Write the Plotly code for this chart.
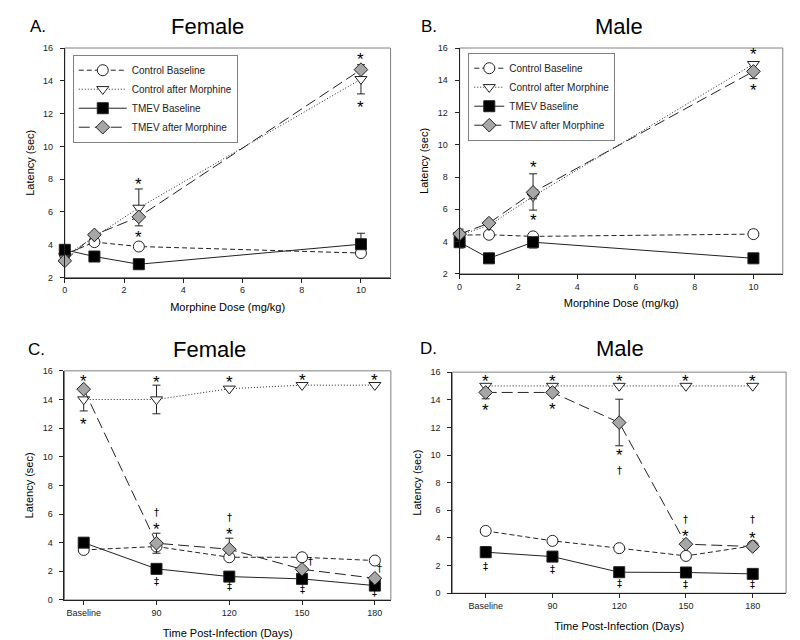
import plotly.graph_objects as go

FONT = "Liberation Sans, Arial, sans-serif"
DFONT = "DejaVu Sans, sans-serif"

# ---------------- data ----------------
dose = [0, 1, 2.5, 10]
days_pos = [0, 1, 2, 3, 4]
days_labels = ["Baseline", "90", "120", "150", "180"]
series_names = ["Control Baseline", "Control after Morphine", "TMEV Baseline", "TMEV after Morphine"]

# Panel A (Female, dose)
A_cb = [3.4, 4.16, 3.89, 3.49]
A_cm = [3.3, 4.5, 6.25, 14.1]
A_cm_up = [None, None, 1.15, None]
A_cm_dn = [None, None, None, 0.9]
A_tb = [3.69, 3.28, 2.81, 4.03]
A_tb_up = [None, None, None, 0.67]
A_tm = [3.02, 4.6, 5.7, 14.68]
A_tm_up = [None, None, None, 0.3]
A_tm_dn = [None, None, 0.55, None]

# Panel B (Male, dose)
B_cb = [4.4, 4.42, 4.32, 4.46]
B_cb_up = [None, None, None, 0.25]
B_cm = [4.4, 5.0, 6.8, 15.0]
B_cm_dn = [None, None, 0.85, None]
B_tb = [3.96, 2.96, 3.96, 2.96]
B_tb_dn = [0.36, None, 0.36, None]
B_tm = [4.46, 5.14, 7.05, 14.55]
B_tm_up = [0.31, None, 1.15, None]
B_tm_dn = [None, None, 0.4, 0.45]

# Panel C (Female, time)
C_cb = [3.49, 3.73, 2.98, 2.98, 2.75]
C_cm = [14.0, 14.0, 14.75, 15.0, 15.0]
C_cm_up = [None, 1.0, None, None, None]
C_cm_dn = [0.8, 1.0, None, None, None]
C_tb = [4.0, 2.17, 1.63, 1.47, 1.0]
C_tm = [14.72, 3.96, 3.54, 2.14, 1.51]
C_tm_up = [None, 0.7, 0.77, None, None]
C_tm_dn = [None, 0.7, None, None, None]

# Panel D (Male, time)
D_cb = [4.51, 3.79, 3.26, 2.70, 3.43]
D_cm = [15.0, 15.0, 15.0, 15.0, 15.0]
D_tb = [2.97, 2.65, 1.52, 1.50, 1.40]
D_tb_up = [0.41, None, None, None, None]
D_tb_dn = [0.39, None, None, None, None]
D_tm = [14.53, 14.53, 12.35, 3.55, 3.38]
D_tm_up = [None, None, 1.69, None, None]
D_tm_dn = [0.46, None, 1.68, None, None]

# significance marks: (x, y, symbol)
A_marks = [(10, 15.6, "*"), (10, 12.65, "*"), (2.5, 7.96, "*"), (2.5, 4.77, "*")]
B_marks = [(10, 15.9, "*"), (10, 13.67, "*"), (2.5, 8.9, "*"), (2.5, 5.6, "*")]
C_marks = [(0, 15.6, "*"), (0, 12.6, "*"), (1, 15.5, "*"), (2, 15.5, "*"), (3, 15.66, "*"),
           (4, 15.66, "*"), (1, 5.24, "*"), (1, 6.1, "†"), (2, 4.9, "*"), (2, 5.78, "†"),
           (3.12, 2.68, "†"), (4.07, 2.2, "†"), (1, 1.28, "‡"), (2, 0.93, "‡"), (3, 0.75, "‡"),
           (4, 0.5, "‡")]
D_marks = [(0, 15.69, "*"), (1, 15.69, "*"), (2, 15.69, "*"), (3, 15.69, "*"), (4, 15.69, "*"),
           (0, 13.56, "*"), (1, 13.64, "*"), (2, 10.35, "*"), (2, 8.85, "†"), (3, 5.35, "†"),
           (3, 4.46, "*"), (4, 5.35, "†"), (4, 4.34, "*"), (0, 1.93, "‡"), (1, 1.69, "‡"),
           (2, 0.72, "‡"), (3, 0.6, "‡"), (4, 0.6, "‡")]

# ---------------- styles ----------------
styles = [
    dict(dash="5px,3px", symbol="circle", fill="white", size=11),
    dict(dash="1px,2px", symbol="triangle-down", fill="white", size=10.5),
    dict(dash="solid", symbol="square", fill="black", size=11),
    dict(dash="11px,5px", symbol="diamond", fill="#a6a6a6", size=10.5),
]

# screen-pixel -> paper mapping (compensates page offset of the rendered figure)
OFFX = 8
OFFY = 13.3
SY = 0.984


def px_x(s):
    return (s - OFFX) / 800


def px_y(s):
    return 1 - ((s - OFFY) / SY) / 640


fig = go.Figure()


def err(up, dn):
    if up is None and dn is None:
        return None
    up = up if up is not None else [None] * len(dn)
    dn = dn if dn is not None else [None] * len(up)
    return dict(type="data", symmetric=False, array=up, arrayminus=dn,
                color="#222", thickness=1, width=4)


def add_panel(xs, ys_list, errs, xa, ya, legend, show):
    for i, (ys, e) in enumerate(zip(ys_list, errs)):
        s = styles[i]
        fig.add_trace(go.Scatter(
            x=xs, y=ys, name=series_names[i], mode="lines+markers",
            xaxis=xa, yaxis=ya, legend=legend, showlegend=show,
            line=dict(color="#222", width=1, dash=s["dash"]),
            marker=dict(symbol=s["symbol"], size=s["size"], color=s["fill"],
                        line=dict(color="#222", width=1)),
            error_y=err(*e) if e else None,
            cliponaxis=False,
        ))


add_panel(dose, [A_cb, A_cm, A_tb, A_tm],
          [None, (A_cm_up, A_cm_dn), (A_tb_up, None), (A_tm_up, A_tm_dn)],
          "x", "y", "legend", True)
add_panel(dose, [B_cb, B_cm, B_tb, B_tm],
          [(B_cb_up, None), (None, B_cm_dn), (None, B_tb_dn), (B_tm_up, B_tm_dn)],
          "x2", "y2", "legend2", True)
add_panel(days_pos, [C_cb, C_cm, C_tb, C_tm],
          [None, (C_cm_up, C_cm_dn), None, (C_tm_up, C_tm_dn)],
          "x3", "y3", "legend", False)
add_panel(days_pos, [D_cb, D_cm, D_tb, D_tm],
          [None, None, (D_tb_up, D_tb_dn), (D_tm_up, D_tm_dn)],
          "x4", "y4", "legend", False)

annotations = []
for marks, xr, yr in [(A_marks, "x", "y"), (B_marks, "x2", "y2"),
                      (C_marks, "x3", "y3"), (D_marks, "x4", "y4")]:
    for (mx, my, sym) in marks:
        if sym == "*":
            annotations.append(dict(x=mx, y=my, xref=xr, yref=yr, text="*", showarrow=False,
                                    font=dict(family=FONT, size=17, color="black"), yshift=-5))
        else:
            annotations.append(dict(x=mx, y=my, xref=xr, yref=yr, text=sym, showarrow=False,
                                    font=dict(family=DFONT, size=10, color="black")))

# panel titles
for lbl, lx, title, tx, py in [("A.", 25, "Female", 205, 27), ("B.", 418, "Male", 618, 27),
                               ("C.", 23, "Female", 207, 350), ("D.", 417, "Male", 619, 349)]:
    annotations.append(dict(x=px_x(lx), y=px_y(py), xref="paper", yref="paper", text=lbl,
                            xanchor="left", yanchor="middle", showarrow=False,
                            font=dict(family=FONT, size=17, color="black")))
    annotations.append(dict(x=px_x(tx), y=px_y(py), xref="paper", yref="paper", text=title,
                            xanchor="center", yanchor="middle", showarrow=False,
                            font=dict(family=FONT, size=22, color="black")))

domains = {
    "": ([px_x(62), px_x(389)], [px_y(277.7), px_y(48.3)]),
    "2": ([px_x(458.3), px_x(782.7)], [px_y(274), px_y(48.3)]),
    "3": ([px_x(61.7), px_x(389.3)], [px_y(600), px_y(371)]),
    "4": ([px_x(451), px_x(786)], [px_y(593.3), px_y(372.3)]),
}

axis_common = dict(showline=True, linecolor="#222", linewidth=1, ticks="outside", ticklen=4,
                   tickcolor="#222", showgrid=False, zeroline=False,
                   tickfont=dict(family=FONT, size=9, color="#222"))
title_font = dict(family=FONT, size=11, color="black")

layout = dict(width=800, height=640, margin=dict(l=0, r=0, t=0, b=0),
              plot_bgcolor="white", paper_bgcolor="white", annotations=annotations,
              font=dict(family=FONT))

shapes = []
for k, (xd, yd) in domains.items():
    xa = "x" + k
    ya = "y" + k
    is_dose = k in ("", "2")
    xax = dict(axis_common, domain=xd, anchor=ya)
    yax = dict(axis_common, domain=yd, anchor=xa, ticklabelstandoff=5)
    if is_dose:
        xax.update(range=[0, 11], tickvals=[0, 2, 4, 6, 8, 10],
                   title=dict(text="Morphine Dose (mg/kg)", font=title_font, standoff=8))
        yax.update(range=[2, 16], tickvals=[2, 4, 6, 8, 10, 12, 14, 16])
    else:
        xax.update(range=[-0.264, 4.22] if k == "3" else [-0.5, 4.5],
                   tickvals=days_pos, ticktext=days_labels,
                   title=dict(text="Time Post-Infection (Days)", font=title_font, standoff=12))
        yax.update(range=[0, 16], tickvals=[0, 2, 4, 6, 8, 10, 12, 14, 16])
    yax.update(title=dict(text="Latency (sec)", font=title_font, standoff=6))
    layout["xaxis" + k] = xax
    layout["yaxis" + k] = yax
    shapes.append(dict(type="rect", xref=xa + " domain", yref=ya + " domain",
                       x0=0, x1=1, y0=0, y1=1, line=dict(color="#808080", width=1),
                       layer="below"))
layout["shapes"] = shapes

layout["legend"] = dict(x=px_x(70), y=px_y(55), xanchor="left", yanchor="top",
                        bgcolor="white", bordercolor="#808080", borderwidth=1,
                        font=dict(family=FONT, size=10, color="#222"), itemwidth=48,
                        tracegroupgap=0)
layout["legend2"] = dict(x=px_x(467), y=px_y(53), xanchor="left", yanchor="top",
                         bgcolor="white", bordercolor="#808080", borderwidth=1,
                         font=dict(family=FONT, size=10, color="#222"), itemwidth=30,
                         tracegroupgap=0)

fig.update_layout(**layout)
fig.write_html("out.html")
